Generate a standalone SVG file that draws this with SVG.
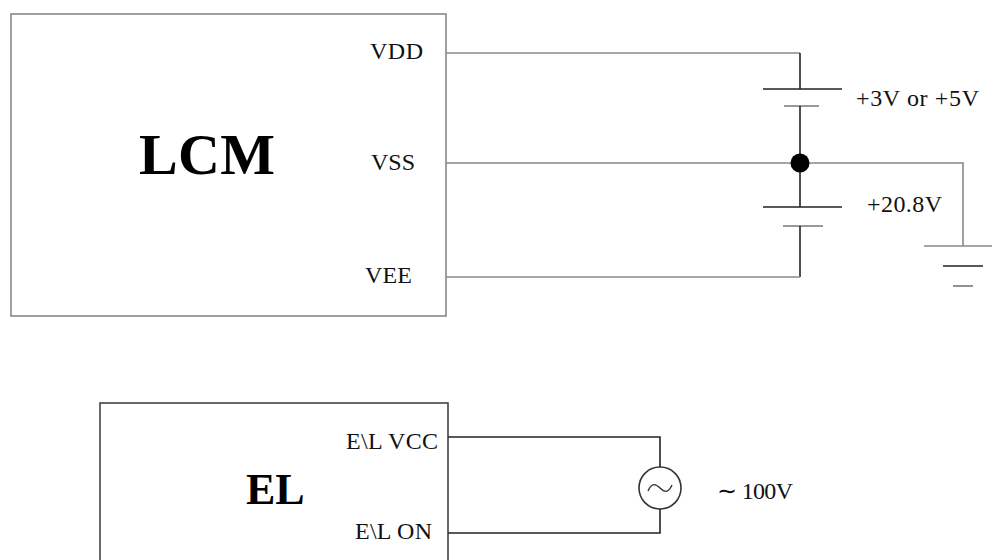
<svg xmlns="http://www.w3.org/2000/svg" width="992" height="560" viewBox="0 0 992 560">
<style>
.t{font-family:"Liberation Serif","Times New Roman",serif;font-size:24px;fill:#111}
.b{font-family:"Liberation Serif","Times New Roman",serif;font-weight:bold;fill:#000}
.w{fill:none;stroke:#888;stroke-width:1.6}
.k{fill:none;stroke:#222;stroke-width:1.6}
.s{fill:none;stroke:#777;stroke-width:1.6}
</style>
<rect width="992" height="560" fill="#fff"/>
<g id="lcm">
<rect x="11" y="14" width="435" height="302" fill="#fff" stroke="#888" stroke-width="1.6"/>
<text class="b" x="139" y="174" font-size="58" textLength="136">LCM</text>
<text class="t" x="370" y="59" textLength="53">VDD</text>
<text class="t" x="371" y="170" textLength="44">VSS</text>
<text class="t" x="365" y="283" textLength="47">VEE</text>
</g>
<g id="el">
<rect x="100" y="403" width="348" height="170" fill="#fff" stroke="#444" stroke-width="1.6"/>
<text class="b" x="246" y="504" font-size="44">EL</text>
<text class="t" x="346" y="449" textLength="92">E\L VCC</text>
<text class="t" x="355" y="539" textLength="77">E\L ON</text>
</g>
<g id="battery1">
<line class="k" x1="763" y1="89" x2="842" y2="89"/>
<line class="s" x1="784" y1="106" x2="819" y2="106"/>
<text class="t" x="856" y="106" textLength="123">+3V or +5V</text>
</g>
<g id="battery2">
<line class="k" x1="763" y1="207" x2="842" y2="207"/>
<line class="s" x1="783" y1="226" x2="823" y2="226"/>
<text class="t" x="867" y="212" textLength="75">+20.8V</text>
</g>
<g id="ground">
<line class="w" x1="924" y1="246" x2="992" y2="246"/>
<line class="k" x1="943" y1="266" x2="983" y2="266"/>
<line class="s" x1="953" y1="286" x2="973" y2="286"/>
</g>
<g id="ac-source">
<circle cx="660" cy="488" r="21" fill="#fff" stroke="#333" stroke-width="1.6"/>
<path d="M648 491 C652 482 656 484 660 488 C664 492 668 494 672 485" fill="none" stroke="#333" stroke-width="1.4"/>
<text class="t" x="717" y="499" textLength="76">∼ 100V</text>
</g>
<g id="connectors">
<polyline class="w" points="446,53 800,53"/>
<line class="k" x1="800" y1="53" x2="800" y2="89"/>
<line class="k" x1="800" y1="106" x2="800" y2="207"/>
<line class="k" x1="800" y1="226" x2="800" y2="277"/>
<polyline class="w" points="446,277 800,277"/>
<polyline class="w" points="446,163 963,163 963,246"/>
<circle cx="800" cy="163" r="9.5" fill="#000"/>
<polyline class="k" points="448,437 660,437 660,467"/>
<polyline class="k" points="448,533 660,533 660,509"/>
</g>
</svg>
